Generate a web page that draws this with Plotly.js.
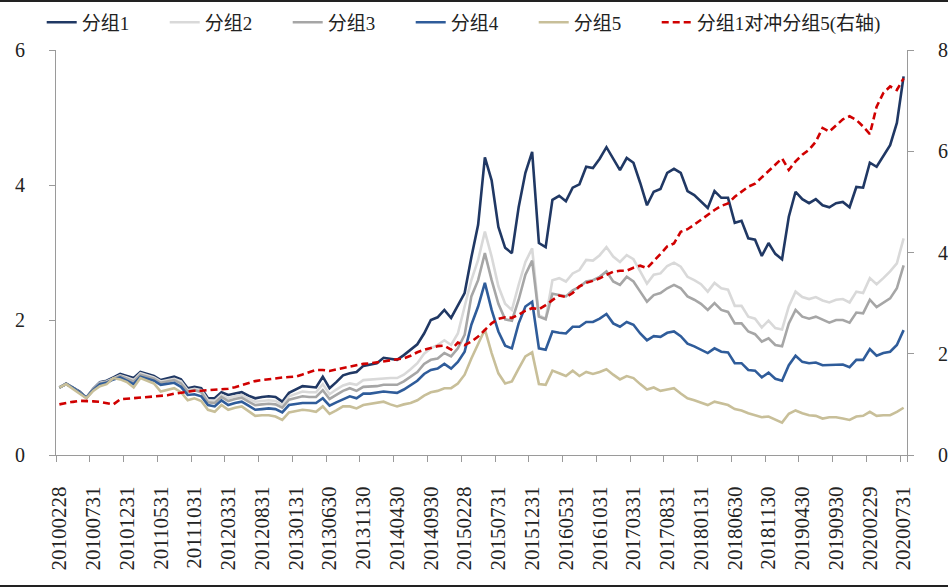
<!DOCTYPE html>
<html>
<head>
<meta charset="utf-8">
<script src="https://cdn.plot.ly/plotly-3.0.1.min.js"></script>
<style>
html,body{margin:0;padding:0;background:#fff;}
#wrap{position:relative;width:948px;height:588px;overflow:hidden;}
#chart{width:948px;height:588px;}
.bar{position:absolute;left:0;width:948px;height:2px;background:#222;}
</style>
</head>
<body>
<div id="wrap">
<div id="chart"></div>
<div class="bar" style="top:0"></div>
<div class="bar" style="top:585px"></div>
</div>
<script>
// Monthly month-end dates 20100228 ... 20200731 (126 categories)
const dates = [];
for (let k = 0; k < 126; k++) {
  const y = 2010 + Math.floor((1 + k) / 12);
  const m = (1 + k) % 12;
  const last = new Date(Date.UTC(y, m + 1, 0)).getUTCDate();
  dates.push(String(y) + String(m + 1).padStart(2, '0') + String(last).padStart(2, '0'));
}

const tickLabels = ['20100228','20100731','20101231','20110531','20111031','20120331','20120831',
  '20130131','20130630','20131130','20140430','20140930','20150228','20150731','20151231',
  '20160531','20161031','20170331','20170831','20180131','20180630','20181130','20190430',
  '20190930','20200229','20200731'];

const seriesNames = ['分组1','分组2','分组3','分组4','分组5','分组1对冲分组5(右轴)'];

const g1 = [1.00,1.06,1.00,0.94,0.85,0.98,1.08,1.10,1.15,1.20,
  1.17,1.14,1.23,1.20,1.17,1.11,1.13,1.16,1.12,0.99,
  1.01,0.99,0.84,0.84,0.93,0.89,0.91,0.93,0.88,0.84,
  0.86,0.87,0.86,0.79,0.92,0.97,1.02,1.01,1.00,1.16,
  0.99,1.08,1.18,1.21,1.23,1.32,1.34,1.36,1.44,1.42,
  1.41,1.48,1.56,1.64,1.80,2.00,2.04,2.15,2.03,2.22,
  2.40,2.93,3.41,4.41,4.07,3.38,3.07,2.99,3.67,4.18,
  4.49,3.14,3.08,3.78,3.84,3.76,3.96,4.01,4.27,4.25,
  4.39,4.56,4.39,4.22,4.40,4.33,4.03,3.70,3.90,3.94,
  4.18,4.24,4.18,3.91,3.85,3.75,3.66,3.91,3.81,3.81,
  3.44,3.47,3.21,3.19,2.95,3.14,2.98,2.90,3.53,3.90,
  3.79,3.73,3.79,3.70,3.67,3.73,3.75,3.67,3.97,3.96,
  4.33,4.27,4.44,4.59,4.92,5.61];

const g2 = [1.00,1.05,1.00,0.93,0.85,0.97,1.07,1.09,1.14,1.18,
  1.15,1.11,1.21,1.18,1.15,1.09,1.11,1.13,1.09,0.96,
  0.98,0.96,0.81,0.80,0.89,0.84,0.87,0.89,0.83,0.79,
  0.80,0.81,0.80,0.74,0.87,0.91,0.94,0.93,0.93,1.05,
  0.90,0.97,1.03,1.06,1.04,1.11,1.12,1.13,1.14,1.14,
  1.14,1.19,1.27,1.36,1.50,1.58,1.63,1.70,1.63,1.80,
  2.20,2.59,2.89,3.31,2.94,2.50,2.24,2.15,2.52,2.86,
  3.06,2.07,2.02,2.59,2.62,2.57,2.69,2.74,2.89,2.88,
  2.96,3.08,2.94,2.86,2.96,2.90,2.72,2.54,2.67,2.69,
  2.80,2.85,2.79,2.64,2.59,2.53,2.42,2.55,2.47,2.45,
  2.21,2.21,2.05,2.02,1.89,1.99,1.88,1.86,2.20,2.42,
  2.34,2.31,2.34,2.29,2.26,2.30,2.31,2.26,2.42,2.40,
  2.62,2.53,2.62,2.72,2.84,3.21];

const g3 = [1.00,1.05,1.00,0.93,0.85,0.97,1.06,1.08,1.13,1.17,
  1.13,1.09,1.19,1.16,1.13,1.07,1.09,1.11,1.06,0.94,
  0.96,0.93,0.78,0.77,0.86,0.80,0.83,0.85,0.79,0.74,
  0.75,0.76,0.75,0.70,0.82,0.85,0.87,0.86,0.86,0.96,
  0.83,0.89,0.95,0.99,0.95,1.01,1.01,1.02,1.04,1.04,
  1.04,1.09,1.16,1.23,1.35,1.41,1.43,1.51,1.46,1.58,
  1.78,2.35,2.59,2.99,2.59,2.24,2.01,1.99,2.30,2.67,
  2.88,2.05,2.01,2.39,2.37,2.35,2.44,2.49,2.57,2.59,
  2.64,2.72,2.57,2.52,2.64,2.57,2.42,2.27,2.37,2.40,
  2.47,2.52,2.47,2.35,2.30,2.24,2.15,2.25,2.15,2.12,
  1.95,1.95,1.83,1.79,1.68,1.73,1.63,1.61,1.95,2.15,
  2.05,2.02,2.05,2.00,1.96,2.00,2.00,1.96,2.11,2.10,
  2.30,2.19,2.25,2.32,2.47,2.81];

const g4 = [1.00,1.05,1.00,0.93,0.85,0.96,1.05,1.07,1.12,1.15,
  1.10,1.05,1.16,1.13,1.10,1.04,1.05,1.07,1.01,0.89,
  0.90,0.87,0.74,0.72,0.81,0.74,0.77,0.79,0.73,0.67,
  0.68,0.69,0.68,0.63,0.74,0.76,0.77,0.77,0.77,0.84,
  0.73,0.78,0.83,0.87,0.84,0.91,0.91,0.92,0.94,0.93,
  0.92,0.97,1.03,1.10,1.20,1.26,1.28,1.35,1.28,1.38,
  1.53,1.93,2.20,2.55,2.15,1.83,1.62,1.58,1.95,2.20,
  2.27,1.58,1.56,1.83,1.81,1.80,1.90,1.90,1.97,1.97,
  2.02,2.09,1.95,1.90,1.97,1.93,1.80,1.70,1.76,1.75,
  1.81,1.83,1.76,1.65,1.61,1.56,1.51,1.58,1.53,1.52,
  1.36,1.36,1.26,1.25,1.15,1.22,1.13,1.10,1.33,1.47,
  1.38,1.36,1.37,1.33,1.33,1.33,1.34,1.30,1.41,1.41,
  1.57,1.47,1.51,1.53,1.63,1.85];

const g5 = [1.00,1.05,0.98,0.91,0.84,0.95,1.02,1.05,1.14,1.12,
  1.08,1.00,1.14,1.10,1.06,0.94,0.96,0.99,0.93,0.81,
  0.84,0.80,0.67,0.64,0.74,0.67,0.70,0.72,0.65,0.58,
  0.59,0.59,0.57,0.52,0.63,0.65,0.67,0.66,0.64,0.72,
  0.61,0.66,0.72,0.72,0.69,0.74,0.76,0.77,0.79,0.75,
  0.72,0.75,0.77,0.81,0.88,0.93,0.95,0.99,0.99,1.06,
  1.19,1.43,1.65,1.86,1.51,1.21,1.06,1.09,1.28,1.46,
  1.52,1.05,1.04,1.25,1.21,1.17,1.25,1.17,1.23,1.20,
  1.23,1.27,1.19,1.12,1.17,1.14,1.05,0.97,1.00,0.95,
  0.97,0.99,0.91,0.84,0.81,0.77,0.74,0.79,0.76,0.74,
  0.68,0.66,0.62,0.59,0.56,0.57,0.52,0.48,0.61,0.66,
  0.62,0.59,0.58,0.54,0.56,0.56,0.54,0.52,0.57,0.58,
  0.64,0.58,0.59,0.59,0.64,0.70];

const hedge = [1.00,1.03,1.05,1.07,1.07,1.06,1.05,1.03,1.00,1.10,
  1.11,1.13,1.14,1.15,1.16,1.17,1.18,1.21,1.23,1.25,
  1.27,1.27,1.28,1.28,1.29,1.31,1.34,1.38,1.42,1.46,
  1.48,1.50,1.52,1.53,1.54,1.55,1.59,1.64,1.68,1.68,
  1.66,1.69,1.72,1.75,1.78,1.80,1.81,1.83,1.84,1.87,
  1.89,1.91,1.96,2.03,2.08,2.11,2.15,2.16,2.08,2.22,
  2.17,2.24,2.34,2.47,2.60,2.69,2.72,2.71,2.77,2.85,
  2.90,2.88,2.96,3.06,3.15,3.12,3.20,3.33,3.40,3.44,
  3.49,3.56,3.62,3.64,3.64,3.70,3.74,3.69,3.82,3.97,
  4.12,4.18,4.41,4.46,4.55,4.65,4.74,4.84,4.92,4.97,
  5.10,5.20,5.30,5.36,5.48,5.60,5.73,5.86,5.63,5.80,
  5.93,6.03,6.19,6.46,6.39,6.52,6.63,6.69,6.62,6.49,
  6.34,6.88,7.15,7.28,7.21,7.44];

const colors = ['#203864','#d9d9d9','#a6a6a6','#2f5c9a','#c8bf99','#d00000'];
const leftSeries = [g1, g2, g3, g4, g5];

const traces = leftSeries.map((vals, idx) => ({
  x: dates, y: vals, type: 'scatter', mode: 'lines', name: seriesNames[idx],
  line: {color: colors[idx], width: 2.6}, yaxis: 'y'
}));
traces.push({
  x: dates, y: hedge, type: 'scatter', mode: 'lines', name: seriesNames[5],
  line: {color: colors[5], width: 2.6, dash: '7px,4px'}, yaxis: 'y2',
  legendwidth: 190
});

const serif = "'Times New Roman', 'Liberation Serif', 'Noto Sans CJK SC', serif";
const axisCommon = {
  showgrid: false, zeroline: false, showline: true, linecolor: '#9a9a9a', linewidth: 1,
  ticks: 'outside', tickcolor: '#9a9a9a', ticklen: 6, tickwidth: 1,
  tickfont: {family: serif, size: 20, color: '#222'}
};

const layout = {
  width: 948, height: 588,
  margin: {l: 56, r: 41, t: 50, b: 133, pad: 0, autoexpand: false},
  paper_bgcolor: '#fff', plot_bgcolor: '#fff',
  showlegend: true,
  legend: {
    orientation: 'h', xref: 'container', yref: 'container',
    x: 0.044, xanchor: 'left', y: 0.962, yanchor: 'middle',
    font: {family: serif, size: 19, color: '#222'},
    entrywidth: 78, entrywidthmode: 'pixels', traceorder: 'normal',
    bgcolor: 'rgba(0,0,0,0)'
  },
  xaxis: Object.assign({}, axisCommon, {
    type: 'category', range: [-0.5, 125.5], tickmode: 'array',
    tickvals: tickLabels, ticktext: tickLabels, tickson: 'boundaries',
    tickangle: -90, ticklen: 6, ticklabelstandoff: 22,
    tickfont: {family: serif, size: 21, color: '#222'}
  }),
  yaxis: Object.assign({}, axisCommon, {
    range: [0, 6], tickmode: 'linear', tick0: 0, dtick: 2, ticklabelstandoff: 20
  }),
  yaxis2: Object.assign({}, axisCommon, {
    range: [0, 8], tickmode: 'linear', tick0: 0, dtick: 2, overlaying: 'y', side: 'right',
    ticklabelstandoff: 20
  })
};

Plotly.newPlot('chart', traces, layout, {displayModeBar: false, staticPlot: true});
</script>
</body>
</html>
